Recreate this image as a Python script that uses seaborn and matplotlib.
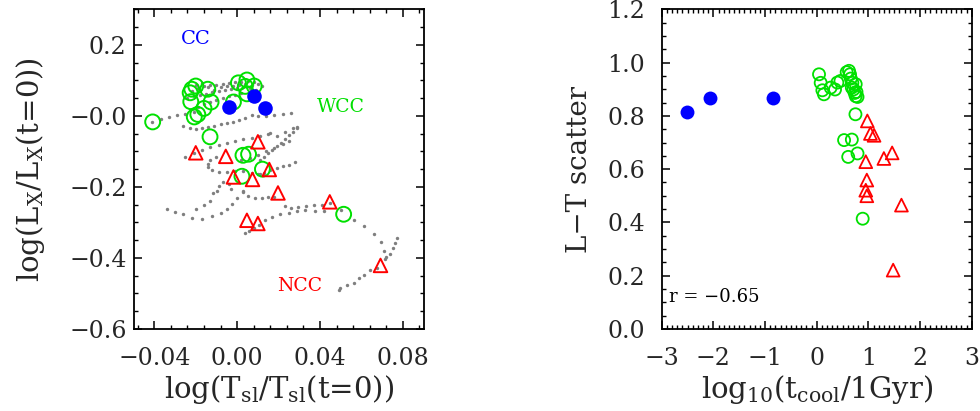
import numpy as np
import pandas as pd
import matplotlib
matplotlib.use("Agg")
import matplotlib.pyplot as plt
from matplotlib.ticker import MultipleLocator, FixedLocator, FixedFormatter
import seaborn as sns

# ---------------- data: left panel ----------------
cc_left_x = [-0.0039, 0.0079, 0.0134]
cc_left_y = [0.025, 0.057, 0.022]

wcc_left_x = [-0.0408, -0.0219, -0.0200, -0.0142, -0.0224, -0.0126, -0.0160, -0.0207,
              -0.0190, -0.0018, 0.0006, 0.0047, 0.0039, 0.0082, 0.0047, -0.0131, 0.0028,
              0.0055, 0.0122, 0.0023, 0.0514, -0.0227]
wcc_left_y = [-0.017, 0.075, 0.084, 0.075, 0.040, 0.039, 0.021, -0.003,
              0.004, 0.039, 0.093, 0.101, 0.083, 0.084, 0.062, -0.059, -0.111,
              -0.108, -0.150, -0.170, -0.277, 0.065]

ncc_left_x = [-0.020, -0.0055, 0.010, -0.0018, 0.0074, 0.0155, 0.0197, 0.0447, 0.0047, 0.010, 0.0692]
ncc_left_y = [-0.104, -0.114, -0.073, -0.172, -0.179, -0.151, -0.217, -0.242, -0.294, -0.303, -0.421]

# gray simulation tracks
track_x = [
    -0.022, -0.019, -0.016, -0.013, -0.010, -0.007, -0.004, -0.001, 0.002, 0.005, 0.008, 0.010, 0.012,
    -0.024, -0.021, -0.018, -0.015, -0.012, -0.009, -0.006, -0.003, 0.000, 0.003, 0.006, 0.009,
    -0.022, -0.019, -0.016, -0.013, -0.010, -0.007, -0.004, -0.001, 0.002,
    -0.020, -0.017, -0.014, -0.011, -0.008, -0.005, -0.002, 0.001, 0.004, 0.007,
    -0.041, -0.037, -0.033, -0.029, -0.025, -0.021,
    -0.026, -0.023, -0.020, -0.017, -0.014, -0.011, -0.008, -0.005, -0.002, 0.001, 0.004, 0.007,
    0.010, 0.014, 0.018, 0.022, 0.026,
    0.016, 0.019, 0.023, 0.027, 0.029,
    -0.025, -0.021, -0.017, -0.013, -0.009, -0.005, -0.001, 0.003, 0.007, 0.011, 0.015,
    0.029, 0.027, 0.025, 0.023, 0.021, 0.019, 0.017, 0.015, 0.013, 0.011,
    0.028, 0.025, 0.022, 0.019, 0.016, 0.013, 0.010,
    -0.010, -0.013, -0.014, -0.014, -0.012, -0.009, -0.005, -0.001, 0.003, 0.007, 0.011,
    0.003, 0.005, 0.0087, 0.012, 0.015, 0.018, 0.023, 0.026, 0.0296, 0.033, 0.037, 0.041, 0.045,
    0.050, 0.0566, 0.0614, 0.066, 0.0695, 0.0708, 0.072,
    0.0772, 0.0764, 0.0753, 0.0737, 0.0716, 0.0676, 0.0643, 0.061, 0.0587, 0.0563, 0.053, 0.0498, 0.049,
    -0.034, -0.030, -0.026, -0.022, -0.017, -0.012, -0.008, -0.005, -0.0026, 0.000, 0.003,
    -0.020, -0.016, -0.013, -0.0115, -0.0098, -0.009, -0.007, -0.004, -0.003,
    0.0039, 0.0055, 0.0079, 0.0103, 0.0135, 0.0168, 0.0208, 0.0248, 0.0289, 0.0329, 0.0377, 0.0417,
    0.002, 0.006, 0.010, 0.014, 0.018, 0.022, 0.025,
]
track_y = [
    0.070, 0.078, 0.083, 0.086, 0.088, 0.090, 0.092, 0.094, 0.096, 0.098, 0.095, 0.090, 0.085,
    0.050, 0.055, 0.058, 0.062, 0.066, 0.070, 0.072, 0.075, 0.078, 0.080, 0.078, 0.072,
    0.020, 0.026, 0.032, 0.038, 0.045, 0.050, 0.055, 0.060, 0.063,
    0.088, 0.092, 0.080, 0.074, 0.081, 0.085, 0.083, 0.086, 0.089, 0.087,
    -0.017, -0.008, -0.002, 0.002, 0.005, 0.010,
    -0.028, -0.034, -0.037, -0.035, -0.031, -0.028, -0.024, -0.020, -0.016, -0.012, -0.006, 0.002,
    0.000, 0.001, 0.003, 0.005, 0.009,
    -0.048, -0.057, -0.045, -0.035, -0.031,
    -0.115, -0.105, -0.095, -0.088, -0.082, -0.076, -0.070, -0.066, -0.062, -0.058, -0.052,
    -0.035, -0.045, -0.055, -0.065, -0.075, -0.085, -0.095, -0.105, -0.115, -0.125,
    -0.130, -0.137, -0.142, -0.147, -0.153, -0.160, -0.165,
    -0.115, -0.125, -0.135, -0.145, -0.153, -0.158, -0.157, -0.155, -0.156, -0.160, -0.165,
    -0.212, -0.226, -0.230, -0.230, -0.229, -0.228, -0.254, -0.259, -0.257, -0.254, -0.251, -0.251, -0.245,
    -0.265, -0.292, -0.310, -0.332, -0.355, -0.381, -0.398,
    -0.345, -0.357, -0.371, -0.388, -0.402, -0.428, -0.435, -0.447, -0.456, -0.470, -0.477, -0.484, -0.489,
    -0.262, -0.272, -0.277, -0.287, -0.289, -0.282, -0.273, -0.263, -0.249, -0.232, -0.215,
    -0.263, -0.250, -0.240, -0.217, -0.212, -0.198, -0.185, -0.193, -0.207,
    -0.329, -0.325, -0.315, -0.306, -0.294, -0.285, -0.277, -0.273, -0.268, -0.266, -0.268, -0.268,
    -0.125, -0.118, -0.110, -0.100, -0.090, -0.080, -0.072,
]

# ---------------- data: right panel ----------------
cc_right_x = [-2.52, -2.07, -0.85]
cc_right_y = [0.816, 0.867, 0.867]

wcc_right_x = [0.045, 0.077, 0.11, 0.14, 0.27, 0.355, 0.40, 0.46, 0.58, 0.625, 0.645, 0.66, 0.69,
               0.755, 0.68, 0.71, 0.735, 0.77, 0.755, 0.79, 0.75, 0.53, 0.68, 0.61, 0.79, 0.89]
wcc_right_y = [0.956, 0.924, 0.896, 0.881, 0.906, 0.899, 0.925, 0.931, 0.964, 0.969, 0.956, 0.94, 0.924,
               0.919, 0.906, 0.899, 0.886, 0.89, 0.874, 0.871, 0.806, 0.709, 0.711, 0.646, 0.659, 0.414]

ncc_right_x = [0.98, 1.04, 1.11, 0.95, 1.30, 1.46, 0.97, 0.95, 0.97, 1.64, 1.48]
ncc_right_y = [0.781, 0.734, 0.727, 0.628, 0.64, 0.661, 0.559, 0.521, 0.50, 0.465, 0.221]

# ---------------- ticks / labels ----------------
left_xticks = [-0.04, 0.00, 0.04, 0.08]
left_xticklabels = ["\u22120.04", "0.00", "0.04", "0.08"]
left_yticks = [-0.6, -0.4, -0.2, 0.0, 0.2]
left_yticklabels = ["\u22120.6", "\u22120.4", "\u22120.2", "\u22120.0", "0.2"]
right_xticks = [-3, -2, -1, 0, 1, 2, 3]
right_xticklabels = ["\u22123", "\u22122", "\u22121", "0", "1", "2", "3"]
right_yticks = [0.0, 0.2, 0.4, 0.6, 0.8, 1.0, 1.2]
right_yticklabels = ["0.0", "0.2", "0.4", "0.6", "0.8", "1.0", "1.2"]

BLUE = "#0000ff"
GREEN = "#00e000"
RED = "#ff0000"
GRAY = "#7f7f7f"

sns.set_theme(style="ticks")
plt.rcParams["font.family"] = ["DejaVu Serif"]
plt.rcParams["mathtext.default"] = "regular"
plt.rcParams["axes.linewidth"] = 1.3

fig = plt.figure(figsize=(9.8, 4.11), dpi=100)
ax1 = fig.add_axes([133.6 / 980, 82 / 411, 290 / 980, 319.7 / 411])
ax2 = fig.add_axes([661.7 / 980, 82 / 411, 310 / 980, 319.7 / 411])


def hollow(ax, x, y, marker, color, size, lw):
    sns.scatterplot(x=x, y=y, ax=ax, marker=marker, s=size, color=color, linewidth=lw,
                    legend=False, zorder=3)
    coll = ax.collections[-1]
    coll.set_facecolor("none")
    coll.set_edgecolor(color)
    coll.set_linewidth(lw)


# ---- left panel ----
sns.scatterplot(x=track_x, y=track_y, ax=ax1, s=6, color=GRAY, linewidth=0, legend=False, zorder=2)
hollow(ax1, wcc_left_x, wcc_left_y, "o", GREEN, 115, 1.4)
hollow(ax1, ncc_left_x, ncc_left_y, "^", RED, 95, 1.4)
sns.scatterplot(x=cc_left_x, y=cc_left_y, ax=ax1, s=110, color=BLUE, linewidth=0, legend=False, zorder=4)

ax1.set_xlim(-0.05, 0.09)
ax1.set_ylim(-0.6, 0.3)
ax1.xaxis.set_major_locator(FixedLocator(left_xticks))
ax1.xaxis.set_major_formatter(FixedFormatter(left_xticklabels))
ax1.xaxis.set_minor_locator(MultipleLocator(0.008))
ax1.yaxis.set_major_locator(FixedLocator(left_yticks))
ax1.yaxis.set_major_formatter(FixedFormatter(left_yticklabels))
ax1.yaxis.set_minor_locator(MultipleLocator(0.05))
ax1.set_xlabel("log(T$_{sl}$/T$_{sl}$(t=0))", fontsize=21, labelpad=2)
ax1.set_ylabel("log(L$_X$/L$_X$(t=0))", fontsize=21, labelpad=16)
ax1.tick_params(axis="x", pad=13)
ax1.tick_params(axis="y", pad=5)

ax1.text(-0.020, 0.215, "CC", color=BLUE, fontsize=14, ha="center", va="center")
ax1.text(0.0503, 0.025, "WCC", color=GREEN, fontsize=13.5, ha="center", va="center")
ax1.text(0.030, -0.48, "NCC", color=RED, fontsize=13.5, ha="center", va="center")

# ---- right panel ----
hollow(ax2, wcc_right_x, wcc_right_y, "o", GREEN, 75, 1.3)
hollow(ax2, ncc_right_x, ncc_right_y, "^", RED, 85, 1.3)
sns.scatterplot(x=cc_right_x, y=cc_right_y, ax=ax2, s=100, color=BLUE, linewidth=0, legend=False, zorder=4)

ax2.set_xlim(-3, 3)
ax2.set_ylim(0, 1.2)
ax2.xaxis.set_major_locator(FixedLocator(right_xticks))
ax2.xaxis.set_major_formatter(FixedFormatter(right_xticklabels))
ax2.xaxis.set_minor_locator(MultipleLocator(0.1))
ax2.yaxis.set_major_locator(FixedLocator(right_yticks))
ax2.yaxis.set_major_formatter(FixedFormatter(right_yticklabels))
ax2.yaxis.set_minor_locator(MultipleLocator(0.05))
ax2.set_xlabel("log$_{10}$(t$_{cool}$/1Gyr)", fontsize=21, labelpad=2)
ax2.set_ylabel("L\u2212T scatter", fontsize=20, labelpad=10)
ax2.tick_params(axis="x", pad=13)
ax2.tick_params(axis="y", pad=12)
ax2.text(-2.86, 0.12, "r = \u22120.65", color="black", fontsize=13, ha="left", va="center")

for ax in (ax1, ax2):
    ax.tick_params(which="both", direction="in", top=True, right=True, labelsize=17, color="black")
    ax.tick_params(which="major", length=6, width=1.1)
    ax.tick_params(which="minor", length=3, width=1.0)
    for sp in ax.spines.values():
        sp.set_visible(True)
        sp.set_color("black")
        sp.set_linewidth(1.3)

fig.savefig("out.png", dpi=100)
